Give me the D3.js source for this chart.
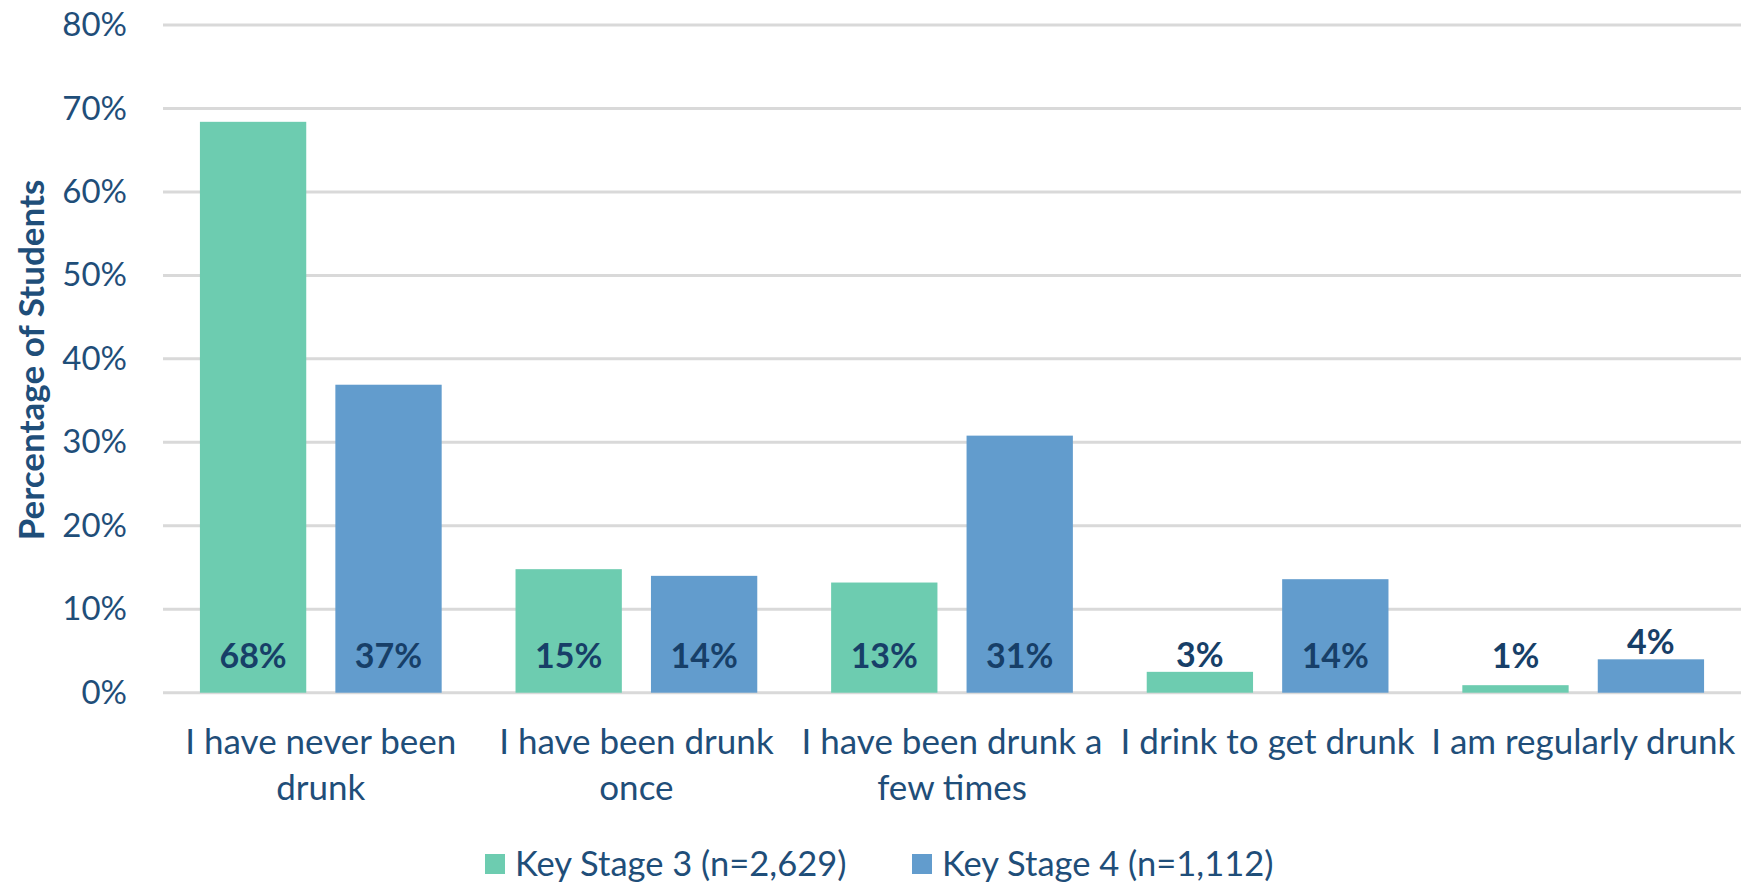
<!DOCTYPE html>
<html>
<head>
<meta charset="utf-8">
<script src="https://cdn.jsdelivr.net/npm/d3@7"></script>
<style>
  body { margin: 0; background: #fff; }
  svg { display: block; font-family: Lato, "Open Sans", sans-serif; }
</style>
</head>
<body>
<div id="chart"></div>
<script>
// chart data
const categories = [
  "I have never been drunk",
  "I have been drunk once",
  "I have been drunk a few times",
  "I drink to get drunk",
  "I am regularly drunk"
];
const seriesNames = ["Key Stage 3 (n=2,629)", "Key Stage 4 (n=1,112)"];
const ks3Values = [68.4, 14.8, 13.2, 2.5, 0.9];
const ks4Values = [36.9, 14.0, 30.8, 13.6, 4.0];
const yTicks = [0, 10, 20, 30, 40, 50, 60, 70, 80];

const colors = ["#6dccb0", "#629ccd"];
const textColor = "#1f4e79";
const labelColor = "#173f68";

const width = 1752, height = 883;
const margin = { top: 25, right: 11, bottom: 190, left: 163 };

const svg = d3.select("#chart").append("svg")
  .attr("width", width)
  .attr("height", height);

const x = d3.scaleBand()
  .domain(categories)
  .range([margin.left, width - margin.right])
  .paddingInner(0.234)
  .paddingOuter(0.117);

const xInner = d3.scaleBand()
  .domain([0, 1])
  .range([0, x.bandwidth()])
  .paddingInner(0.215);

const y = d3.scaleLinear()
  .domain([0, 80])
  .range([height - margin.bottom - 0.3, margin.top]);

// gridlines
svg.append("g")
  .selectAll("line")
  .data(yTicks)
  .join("line")
  .attr("x1", margin.left)
  .attr("x2", width - margin.right)
  .attr("y1", d => y(d))
  .attr("y2", d => y(d))
  .attr("stroke", "#d9d9d9")
  .attr("stroke-width", 3);

// y axis labels
const yAxis = svg.append("g")
  .attr("transform", `translate(${margin.left - 36},0)`)
  .call(d3.axisLeft(y).tickValues(yTicks).tickFormat(d => d + "%").tickSize(0).tickPadding(0));
yAxis.select(".domain").remove();
yAxis.selectAll("text")
  .attr("fill", textColor)
  .style("font-size", "33px")
  .style("font-family", "Lato, sans-serif");

// y axis title
svg.append("text")
  .attr("transform", `translate(44, 360) rotate(-90)`)
  .attr("text-anchor", "middle")
  .attr("fill", textColor)
  .style("font-size", "35px")
  .style("font-weight", "bold")
  .text("Percentage of Students");

// bars
const rows = categories.map((c, i) => ({ cat: c, vals: [ks3Values[i], ks4Values[i]] }));
const groups = svg.append("g")
  .selectAll("g")
  .data(rows)
  .join("g")
  .attr("transform", d => `translate(${x(d.cat)},0)`);

groups.selectAll("rect")
  .data(d => d.vals.map((v, s) => ({ v, s })))
  .join("rect")
  .attr("x", d => xInner(d.s))
  .attr("width", xInner.bandwidth())
  .attr("y", d => y(d.v))
  .attr("height", d => y(0) - y(d.v))
  .attr("fill", d => colors[d.s]);

// data labels: near the base, or just above short bars
groups.selectAll("text.value")
  .data(d => d.vals.map((v, s) => ({ v, s })))
  .join("text")
  .attr("class", "value")
  .attr("x", d => xInner(d.s) + xInner.bandwidth() / 2)
  .attr("y", d => {
    const base = y(0) - 37;
    if (y(0) - y(d.v) > 60) return base;
    return Math.min(base, y(d.v) - 17);
  })
  .attr("dy", "0.35em")
  .attr("text-anchor", "middle")
  .attr("fill", labelColor)
  .style("font-size", "34px")
  .style("font-weight", "bold")
  .text(d => Math.round(d.v) + "%");

// category labels with wrapping
const catLabels = svg.append("g")
  .selectAll("text")
  .data(categories)
  .join("text")
  .attr("x", d => x(d) + x.bandwidth() / 2)
  .attr("y", 754)
  .attr("text-anchor", "middle")
  .attr("fill", textColor)
  .style("font-size", "35px");

catLabels.each(function(d) {
  const t = d3.select(this);
  const words = d.split(" ");
  const maxW = x.step() + 20;
  let line = [];
  let tspan = t.append("tspan").attr("x", t.attr("x")).attr("dy", 0);
  words.forEach(w => {
    line.push(w);
    tspan.text(line.join(" "));
    if (tspan.node().getComputedTextLength() > maxW && line.length > 1) {
      line.pop();
      tspan.text(line.join(" "));
      line = [w];
      tspan = t.append("tspan").attr("x", t.attr("x")).attr("dy", "1.3em").text(w);
    }
  });
});

// legend
const legendItems = [
  { name: seriesNames[0], color: colors[0], x: 485 },
  { name: seriesNames[1], color: colors[1], x: 912 }
];
const legend = svg.append("g")
  .selectAll("g")
  .data(legendItems)
  .join("g")
  .attr("transform", d => `translate(${d.x}, 864)`);
legend.append("rect")
  .attr("x", 0)
  .attr("y", -10)
  .attr("width", 20)
  .attr("height", 20)
  .attr("fill", d => d.color);
legend.append("text")
  .attr("x", 30)
  .attr("dy", "0.35em")
  .attr("fill", textColor)
  .style("font-size", "34.5px")
  .text(d => d.name);
</script>
</body>
</html>
